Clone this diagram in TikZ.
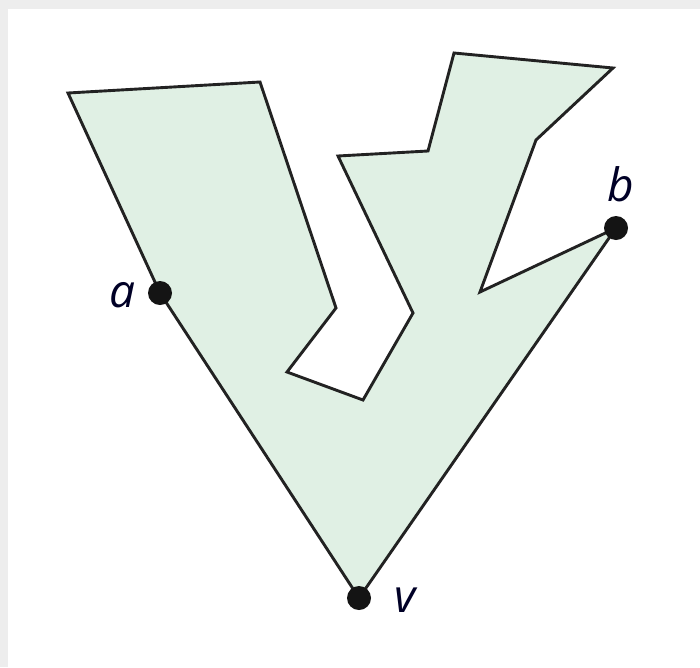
\documentclass[tikz,border=0pt]{standalone}
\usepackage{fontspec}
\setsansfont{Open Sans}
\definecolor{regfill}{RGB}{224,240,228}
\definecolor{edge}{RGB}{34,34,34}
\begin{document}
\begin{tikzpicture}[x=1pt,y=-1pt,
  region/.style={draw=edge,line width=2.9pt,line join=miter,fill=regfill},
  vdot/.style={circle,fill=black!92,inner sep=0pt,minimum size=24pt},
  lbl/.style={font=\fontsize{46}{52}\selectfont\sffamily\itshape,text=black!85!blue}]
\useasboundingbox (0,0) rectangle (700,667);
\fill[black!7] (0,0) rectangle (700,8.5);
\fill[black!7] (0,0) rectangle (8,667);
\coordinate (p1) at (68,93);
\coordinate (p2) at (260,82);
\coordinate (p3) at (336,308);
\coordinate (p4) at (287,372);
\coordinate (p5) at (363,400);
\coordinate (p6) at (413,313);
\coordinate (p7) at (338,156);
\coordinate (p8) at (428,151);
\coordinate (p9) at (454,53);
\coordinate (p10) at (613,68);
\coordinate (p11) at (536,140);
\coordinate (p12) at (480,292);
\coordinate (b) at (616,228);
\coordinate (v) at (359,598);
\coordinate (a) at (160,293);
\draw[region] (p1) -- (p2) -- (p3) -- (p4) -- (p5) -- (p6) -- (p7) -- (p8) -- (p9) -- (p10) -- (p11) -- (p12) -- (b) -- (v) -- (a) -- cycle;
\node[vdot] (da) at (a) {};
\node[vdot] (db) at (b) {};
\node[vdot] (dv) at (v) {};
\node[lbl] (la) at (123,295) {a};
\node[lbl] (lb) at (621,184) {b};
\node[lbl] (lv) at (405,600) {v};
\end{tikzpicture}
\end{document}
